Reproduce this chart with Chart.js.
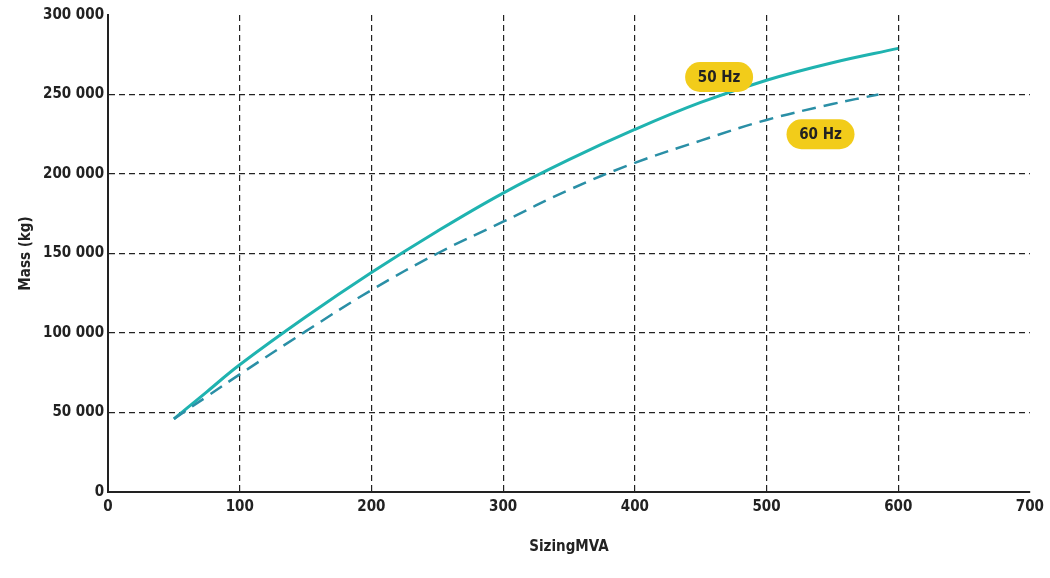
<!DOCTYPE html>
<html>
<head>
<meta charset="utf-8">
<script src="https://cdn.jsdelivr.net/npm/chart.js@4/dist/chart.umd.min.js"></script>
<style>
html,body{margin:0;padding:0;background:#fff;}
#wrap{width:1050px;height:578px;}
</style>
</head>
<body>
<div id="wrap"><canvas id="c"></canvas></div>
<script>
var mva = [50, 75, 100, 150, 200, 250, 300, 350, 400, 450, 500, 550, 600];
var mass50 = [46000, 63000, 80000, 110000, 138000, 164000, 188000, 209000, 228000, 245000, 259000, 270000, 279000];
var mva60 = [50, 75, 100, 150, 200, 250, 300, 350, 400, 450, 500, 550, 585];
var mass60 = [46000, 60000, 74000, 101000, 127000, 150000, 170000, 190000, 207000, 221000, 234000, 244000, 250000];
var tags = [{text: '50 Hz', x: 464, y: 261000}, {text: '60 Hz', x: 541, y: 225000}];

function pts(xs, ys) {
    var out = [];
    for (var i = 0; i < xs.length; i++) out.push({x: xs[i], y: ys[i]});
    return out;
}

var tagPlugin = {
    id: 'tags',
    afterDatasetsDraw: function(chart) {
        var ctx = chart.ctx, sx = chart.scales.x, sy = chart.scales.y;
        ctx.save();
        ctx.font = 'bold 15px "Liberation Sans Narrow", "DejaVu Sans Condensed", sans-serif';
        tags.forEach(function(t) {
            var cx = sx.getPixelForValue(t.x), cy = sy.getPixelForValue(t.y);
            var w = 68, h = 30;
            ctx.fillStyle = '#f2cc1a';
            ctx.beginPath();
            ctx.roundRect(cx - w / 2, cy - h / 2, w, h, 15);
            ctx.fill();
            ctx.fillStyle = '#222';
            ctx.textAlign = 'center';
            ctx.textBaseline = 'middle';
            ctx.fillText(t.text, cx, cy + 1);
        });
        ctx.restore();
    }
};

var tickFont = {family: '"Liberation Sans Narrow", "DejaVu Sans Condensed", sans-serif', size: 15, weight: 'bold'};

new Chart(document.getElementById('c').getContext('2d'), {
    type: 'scatter',
    data: {
        datasets: [
            {label: '60 Hz', data: pts(mva60, mass60), showLine: true, borderColor: '#2a8fa6', borderWidth: 2.5, borderDash: [14, 8], pointRadius: 0, tension: 0.4},
            {label: '50 Hz', data: pts(mva, mass50), showLine: true, borderColor: '#1fb3b0', borderWidth: 3, pointRadius: 0, tension: 0.4}
        ]
    },
    options: {
        responsive: true,
        maintainAspectRatio: false,
        animation: false,
        layout: {padding: {top: 15, right: 0, left: 13, bottom: 18}},
        plugins: {legend: {display: false}, tooltip: {enabled: false}},
        scales: {
            x: {
                min: 0, max: 700,
                ticks: {stepSize: 100, color: '#222', font: tickFont, padding: 6},
                grid: {color: function(c) { return (c.tick.value > 0 && c.tick.value < 700) ? '#222' : 'rgba(0,0,0,0)'; }, drawTicks: false, lineWidth: 1.2},
                border: {display: true, color: '#222', width: 2, dash: [6, 4]},
                title: {display: true, text: 'SizingMVA', color: '#222', font: tickFont, padding: {top: 16}}
            },
            y: {
                min: 0, max: 300000,
                ticks: {stepSize: 50000, color: '#222', font: tickFont, padding: 4,
                    callback: function(v) { return v === 0 ? '0' : String(v).replace(/(\d)(?=(\d{3})+$)/g, '$1 '); }},
                grid: {color: function(c) { return (c.tick.value > 0 && c.tick.value < 300000) ? '#222' : 'rgba(0,0,0,0)'; }, drawTicks: false, lineWidth: 1.2},
                border: {display: true, color: '#222', width: 2, dash: [6, 4]},
                title: {display: true, text: 'Mass (kg)', color: '#222', font: tickFont}
            }
        }
    },
    plugins: [tagPlugin]
});
</script>
</body>
</html>
